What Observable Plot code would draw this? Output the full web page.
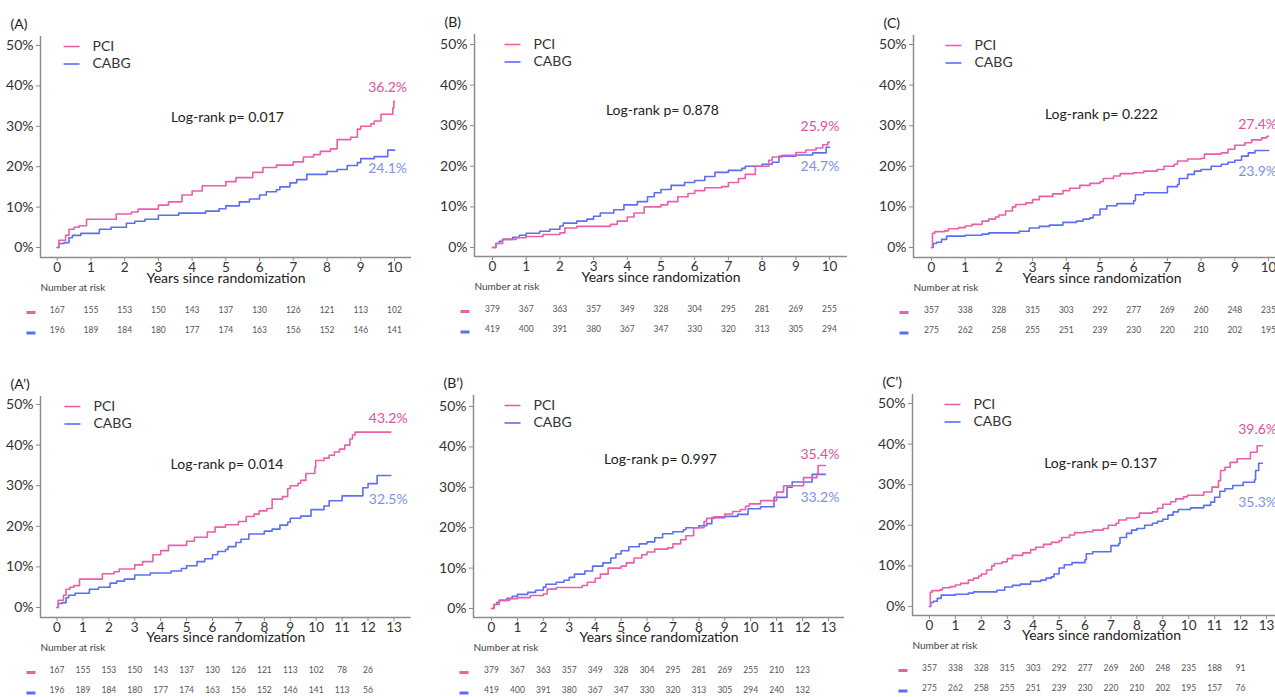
<!DOCTYPE html>
<html><head><meta charset="utf-8">
<script src="https://cdn.jsdelivr.net/npm/d3@7"></script>
<script src="https://cdn.jsdelivr.net/npm/@observablehq/plot@0.6"></script>
<style>
html,body{margin:0;padding:0;background:#fff;overflow:hidden;width:1275px;height:697px;}
#root{position:relative;width:1275px;height:697px;overflow:hidden;}
.panel{position:absolute;}
.panel svg{max-width:none !important;display:block;}
</style></head>
<body><div id="root"></div>
<script>
// ---------- DATA (cumulative incidence, %, vs years) ----------
const studyA_pci = [[0,0],[0.05,1.8],[0.25,3],[0.35,4.5],[0.5,5],[0.65,5.4],[0.87,7],[1.75,8.3],[2.2,8.8],[2.4,9.5],[3.0,10.5],[3.3,11.3],[3.7,13],[4.0,14],[4.3,15.3],[5.0,16.3],[5.3,17.3],[5.8,18.6],[6.1,19.8],[6.5,20.4],[7.0,21.2],[7.3,22.4],[7.6,23],[7.8,23.8],[8.1,24.4],[8.3,26.7],[8.7,27.3],[8.9,29.3],[9.0,30],[9.3,30.6],[9.4,31.3],[9.6,33],[9.95,34.5],[9.98,36.2],[10.3,36.8],[10.5,37.5],[10.7,38.3],[10.9,39],[11.1,40],[11.3,41.5],[11.4,42.5],[11.5,43.2],[12.88,43.2]];
const studyA_cabg = [[0,0],[0.05,1],[0.2,1.2],[0.35,2.4],[0.45,3],[0.7,3.5],[1.25,4.5],[1.6,5],[2.05,6],[2.3,6.5],[2.6,7],[3.0,8],[3.6,8.5],[4.4,9],[4.8,9.6],[5.0,10.3],[5.4,11.3],[5.7,12],[6.0,13],[6.2,13.8],[6.5,14.3],[6.6,15],[6.9,16],[7.1,16.8],[7.4,18.1],[8.0,18.8],[8.3,19.3],[8.6,20.3],[8.9,21],[9.0,22],[9.4,22.5],[9.8,24.1],[10.3,25],[10.5,26.3],[11.0,27.5],[11.8,29.5],[12.0,30.5],[12.35,32.5],[12.88,32.5]];
const studyB_pci = [[0,0],[0.1,1],[0.3,2],[0.7,2.4],[1.0,2.7],[1.5,3.2],[2.0,3.6],[2.15,4.8],[2.5,5.2],[3.5,5.7],[3.7,6.5],[4.0,7.5],[4.2,8.5],[4.5,10],[5.0,10.5],[5.2,11.3],[5.5,12.5],[5.8,13.3],[6.0,14],[6.3,14.7],[6.8,15],[7.0,16],[7.3,17],[7.5,18],[7.8,20],[8.2,21.5],[8.3,22.3],[8.6,22.7],[9.0,23.4],[9.3,24],[9.6,24.5],[9.8,25.3],[9.95,25.9],[10.38,26.7],[11.0,28.8],[11.27,30.4],[12.04,32.4],[12.56,33.4],[12.6,35.4],[12.88,35.4]];
const studyB_cabg = [[0,0],[0.1,1],[0.2,1.5],[0.3,2],[0.6,2.5],[0.8,3],[1.0,3.5],[1.4,4],[1.7,4.5],[2.0,5.3],[2.1,6],[2.5,6.5],[2.8,7],[3.0,7.7],[3.2,8.5],[3.6,9.3],[3.9,10.5],[4.3,11.3],[4.6,12.5],[4.8,13.5],[5.0,14.3],[5.3,15.3],[5.7,16],[6.0,16.5],[6.3,17.5],[6.6,18.5],[7.0,19],[7.4,19.5],[7.5,20],[8.0,20.5],[8.3,21],[8.5,22.5],[9.0,22.8],[9.5,23.3],[9.9,24.7],[10.38,25.2],[10.9,27.5],[11.4,30],[11.6,31.3],[12.37,33.2],[12.88,33.2]];
const studyC_pci = [[0,0],[0.03,3.5],[0.1,3.9],[0.4,4.1],[0.5,4.6],[0.8,4.9],[1.0,5.3],[1.2,5.7],[1.5,6.5],[1.7,7],[1.9,7.5],[2.0,8],[2.2,9],[2.4,10],[2.5,10.6],[2.8,11],[3.0,11.8],[3.2,12.6],[3.6,13.2],[3.9,14],[4.1,14.6],[4.4,15.3],[4.7,15.8],[5.0,16.2],[5.1,17],[5.4,17.6],[5.6,18.2],[6.0,18.4],[6.3,18.8],[6.7,19.2],[6.9,20],[7.2,20.5],[7.3,21.3],[7.6,21.8],[8.0,22],[8.1,23],[8.6,23.3],[8.8,24.2],[9.0,25.2],[9.3,25.8],[9.5,26.5],[9.8,27],[9.95,27.4],[10.58,28.2],[10.9,29.4],[11.15,31],[11.23,33.5],[11.4,34.3],[11.6,35.5],[11.87,36.4],[12.38,38],[12.64,39.6],[12.84,39.6]];
const studyC_cabg = [[0,0],[0.05,1],[0.15,1.3],[0.3,2],[0.45,2.8],[1.0,3],[1.5,3.3],[1.7,3.6],[2.6,4],[2.9,4.8],[3.2,5.2],[3.5,5.5],[3.9,6.2],[4.3,6.5],[4.5,7],[4.7,7.3],[4.8,8],[5.0,9.5],[5.2,10.3],[5.5,10.8],[6.0,11.5],[6.05,13],[6.3,13.5],[7.0,15],[7.3,15.5],[7.35,17],[7.6,18],[7.8,18.8],[8.0,19.2],[8.3,20],[8.6,20.5],[8.8,21],[9.0,21.5],[9.2,22.5],[9.4,23.3],[9.6,23.9],[10.07,24.3],[10.58,24.9],[10.85,25.7],[11.0,26.9],[11.2,28.4],[11.4,29],[11.7,29.8],[12.1,30.6],[12.54,31.2],[12.58,33.5],[12.7,35.3],[12.84,35.3]];

// Number at risk (years 0..12)
const riskA_pci  = [167,155,153,150,143,137,130,126,121,113,102,78,26];
const riskA_cabg = [196,189,184,180,177,174,163,156,152,146,141,113,56];
const riskB_pci  = [379,367,363,357,349,328,304,295,281,269,255,210,123];
const riskB_cabg = [419,400,391,380,367,347,330,320,313,305,294,240,132];
const riskC_pci  = [357,338,328,315,303,292,277,269,260,248,235,188,91];
const riskC_cabg = [275,262,258,255,251,239,230,220,210,202,195,157,76];

const panelIds   = ["(A)","(B)","(C)","(A\u2019)","(B\u2019)","(C\u2019)"];
const pValues    = ["0.017","0.878","0.222","0.014","0.997","0.137"];
const endPCI     = ["36.2%","25.9%","27.4%","43.2%","35.4%","39.6%"];
const endCABG    = ["24.1%","24.7%","23.9%","32.5%","33.2%","35.3%"];
const horizons   = [10,10,10,13,13,13];
const yTicks     = [0,10,20,30,40,50];
const groupNames = ["PCI","CABG"];

// ---------- STYLE / LAYOUT ----------
const PCI_COLOR = "#ea5fa8", CABG_COLOR = "#5b6ff0";
const PCI_LABEL = "#e2509f", CABG_LABEL = "#7f90ee";
const AXIS_COLOR = "#8c8c8c", TEXT_COLOR = "#333";
const FONT = "Lato, 'Open Sans', sans-serif";

const layouts = [
  {yAxisX:40,  x0:56.7, ppy:33.73, axisRight:411,  y0:247, y50:45,  xAxisY:257, yTop:36,  legendDx:23, titleDy:25.5},
  {yAxisX:474, x0:492,  ppy:33.7,  axisRight:847,  y0:247, y50:44,  xAxisY:256, yTop:34,  legendDx:30, titleDy:25.5},
  {yAxisX:913, x0:931,  ppy:33.7,  axisRight:1290, y0:247, y50:44,  xAxisY:257, yTop:35,  legendDx:32, titleDy:25.5},
  {yAxisX:39.5,x0:56,   ppy:25.92, axisRight:410,  y0:607, y50:404, xAxisY:617, yTop:396, legendDx:24, titleDy:24},
  {yAxisX:473, x0:491,  ppy:25.92, axisRight:844,  y0:608, y50:406, xAxisY:617, yTop:395, legendDx:31, titleDy:24},
  {yAxisX:912, x0:929,  ppy:25.92, axisRight:1290, y0:606, y50:403, xAxisY:615, yTop:394, legendDx:32, titleDy:24}
];
// annotation anchors in data coordinates [year, %]
const notes = [
  {logrank:[5.05,32.2], pci:[9.22,39.5],  cabg:[9.22,19.5]},
  {logrank:[5.04,33.7], pci:[9.14,29.8],  cabg:[9.14,20.0]},
  {logrank:[5.04,32.8], pci:[9.1,30.3],   cabg:[9.1,18.8]},
  {logrank:[6.56,35.2], pci:[12.03,46.5], cabg:[12.03,26.5]},
  {logrank:[6.52,36.9], pci:[11.92,38.0], cabg:[11.92,27.4]},
  {logrank:[6.6,35.2],  pci:[11.91,43.5], cabg:[11.91,25.5]}
];

const studies = [
  {pci:studyA_pci, cabg:studyA_cabg, rp:riskA_pci, rc:riskA_cabg},
  {pci:studyB_pci, cabg:studyB_cabg, rp:riskB_pci, rc:riskB_cabg},
  {pci:studyC_pci, cabg:studyC_cabg, rp:riskC_pci, rc:riskC_cabg}
];

function truncate(series, h) {
  const out = series.filter(d => d[0] <= h);
  const last = out[out.length - 1];
  if (last[0] < h && series[series.length-1][0] > h) out.push([h, last[1]]);
  return out;
}

const root = document.getElementById("root");

for (let i = 0; i < 6; i++) {
  const L = layouts[i], N = notes[i], S = studies[i % 3], h = horizons[i];
  const mL = 45, mR = 15, mT = 36, mB = 85;
  const left = L.yAxisX - mL, top = L.yTop - mT;
  const width = (L.axisRight - left) + mR;
  const height = (L.xAxisY - top) + mB;
  const ppp = (L.y0 - L.y50) / 50;
  const xd = [(L.yAxisX - L.x0) / L.ppy, (L.axisRight - L.x0) / L.ppy];
  const yd = [(L.y0 - L.xAxisY) / ppp, 50 + (L.y50 - L.yTop) / ppp];

  const pci = truncate(S.pci, h), cabg = truncate(S.cabg, h);
  const years = d3.range(0, h + 1);
  const riskYears = d3.range(0, h === 10 ? 11 : 13);
  const riskP = riskYears.map(t => ({t, n: S.rp[t]}));
  const riskC = riskYears.map(t => ({t, n: S.rc[t]}));

  // legend & risk-row marker positions (from layout, in data units)
  const lgx1 = xd[0] + L.legendDx / L.ppy, lgx2 = lgx1 + 16 / L.ppy;
  const lgText = xd[0] + (L.legendDx + 29) / L.ppy;
  const lgy = [yd[1] - 10 / ppp, yd[1] - 27.5 / ppp];
  const legend = groupNames.map((g, k) => ({g, y: lgy[k], c: k === 0 ? PCI_COLOR : CABG_COLOR}));
  const rmx1 = xd[0] - 14 / L.ppy, rmx2 = xd[0] - 5 / L.ppy;
  const rmRows = [{y: yd[0] - 55 / ppp, c: PCI_COLOR}, {y: yd[0] - 75.5 / ppp, c: CABG_COLOR}];

  const chart = Plot.plot({
    width, height,
    marginLeft: mL, marginRight: mR, marginTop: mT, marginBottom: mB,
    x: {domain: xd},
    y: {domain: yd},
    style: {fontFamily: FONT, fontSize: "14px", color: TEXT_COLOR, background: "transparent", overflow: "visible", maxWidth: "none"},
    marks: [
      Plot.axisY(yTicks, {tickFormat: d => d + "%", tickSize: 4, tickPadding: 3, stroke: AXIS_COLOR, fill: TEXT_COLOR, label: null, fontSize: 14}),
      Plot.axisX(years, {tickFormat: d => String(d), tickSize: 4, tickPadding: 0.5, stroke: AXIS_COLOR, fill: TEXT_COLOR, label: null, fontSize: 13.5}),
      Plot.ruleX([xd[0]], {y1: yd[0], y2: yd[1], stroke: AXIS_COLOR, strokeWidth: 1.5}),
      Plot.ruleY([yd[0]], {x1: xd[0], x2: xd[1], stroke: AXIS_COLOR, strokeWidth: 1.5}),
      Plot.line(cabg, {x: d => d[0], y: d => d[1], curve: "step-after", stroke: CABG_COLOR, strokeWidth: 1.6}),
      Plot.line(pci, {x: d => d[0], y: d => d[1], curve: "step-after", stroke: PCI_COLOR, strokeWidth: 1.6}),
      // legend
      Plot.link(legend, {x1: lgx1, x2: lgx2, y1: "y", y2: "y", stroke: "c", strokeWidth: 1.6}),
      Plot.text(legend, {x: lgText, y: "y", text: "g", textAnchor: "start", fontSize: 14, fill: TEXT_COLOR}),
      // annotations
      Plot.text(["Log-rank p= " + pValues[i]], {x: N.logrank[0], y: N.logrank[1], fontSize: 14, fill: "#222"}),
      Plot.text([endPCI[i]], {x: N.pci[0], y: N.pci[1], textAnchor: "start", fontSize: 14, fill: PCI_LABEL}),
      Plot.text([endCABG[i]], {x: N.cabg[0], y: N.cabg[1], textAnchor: "start", fontSize: 14, fill: CABG_LABEL}),
      Plot.text([panelIds[i]], {frameAnchor: "top-left", dx: -30, dy: -17, textAnchor: "start", fontSize: 14, fill: "#222"}),
      Plot.text(["Years since randomization"], {frameAnchor: "bottom", dy: L.titleDy, fontSize: 14, fill: "#222"}),
      // number at risk
      Plot.text(["Number at risk"], {frameAnchor: "bottom-left", dy: 33, textAnchor: "start", fontSize: 10, fill: "#444"}),
      Plot.link(rmRows, {x1: rmx1, x2: rmx2, y1: "y", y2: "y", stroke: "c", strokeWidth: 3}),
      Plot.text(riskP, {x: "t", text: "n", frameAnchor: "bottom", dy: 55, fontSize: 8.5, fill: "#555"}),
      Plot.text(riskC, {x: "t", text: "n", frameAnchor: "bottom", dy: 75.5, fontSize: 8.5, fill: "#555"})
    ]
  });
  chart.style.maxWidth = "none";
  chart.setAttribute("width", width);
  chart.setAttribute("height", height);
  const div = document.createElement("div");
  div.className = "panel";
  div.style.left = left + "px";
  div.style.top = top + "px";
  div.style.width = width + "px";
  div.style.height = height + "px";
  div.appendChild(chart);
  root.appendChild(div);
}
</script>
</body></html>
